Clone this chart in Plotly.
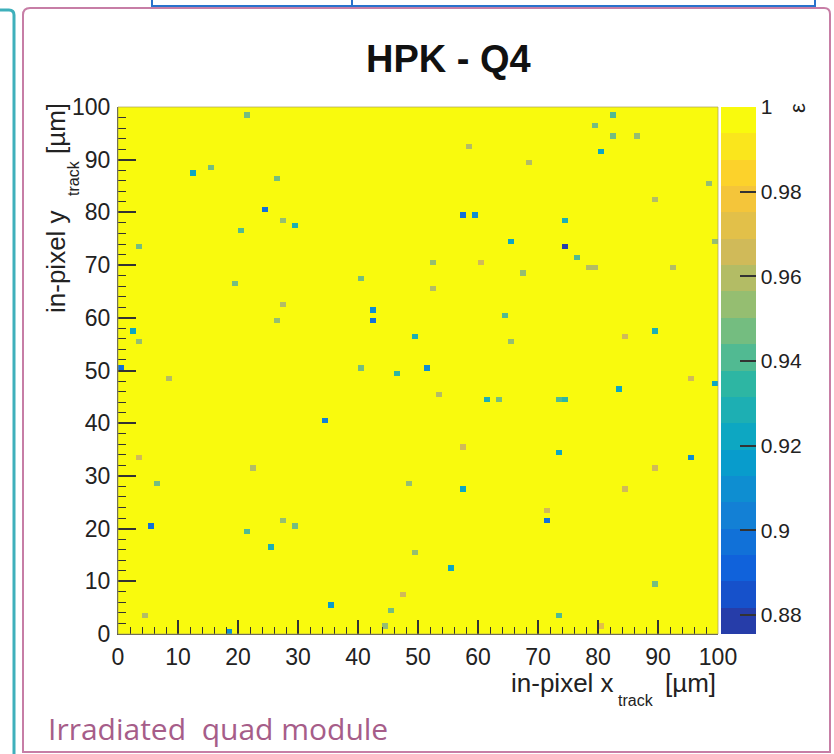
import numpy as np
import plotly.graph_objects as go

W, H = 834, 754

# ---------------- data ----------------
bin_edges = list(range(0, 101))          # 1 um bins, 0..100
x_bins = [21, 12, 15, 26, 24, 27, 29, 20, 3, 19, 40, 27, 26, 42, 42, 49, 2, 3, 0, 40, 46, 8,
          82, 79, 82, 86, 80, 58, 68, 98, 89, 57, 59, 74, 65, 74, 76, 78, 79, 92, 99, 52, 60, 67,
          52, 64, 65, 84, 89, 51, 95,
          34, 3, 22, 6, 48, 5, 21, 27, 29, 25, 49, 47, 35, 45, 4, 44, 18,
          53, 61, 63, 73, 74, 83, 99, 57, 73, 95, 89, 57, 84, 71, 71, 55, 89, 73, 80]
y_bins = [98, 87, 88, 86, 80, 78, 77, 76, 73, 66, 67, 62, 59, 61, 59, 56, 57, 55, 50, 50, 49, 48,
          98, 96, 94, 94, 91, 92, 89, 85, 82, 79, 79, 78, 74, 73, 71, 69, 69, 69, 74, 70, 70, 68,
          65, 60, 55, 56, 57, 50, 48,
          40, 33, 31, 28, 28, 20, 19, 21, 20, 16, 15, 7, 5, 4, 3, 1, 0,
          45, 44, 44, 44, 44, 46, 47, 35, 34, 33, 31, 27, 27, 23, 21, 12, 9, 3, 1]
eff_values = [0.950, 0.920, 0.945, 0.945, 0.900, 0.955, 0.930, 0.940, 0.950, 0.945, 0.950, 0.960,
              0.955, 0.910, 0.895, 0.930, 0.925, 0.955, 0.900, 0.945, 0.935, 0.960,
              0.940, 0.945, 0.950, 0.955, 0.920, 0.960, 0.960, 0.955, 0.960, 0.900, 0.910, 0.930,
              0.920, 0.876, 0.940, 0.962, 0.962, 0.962, 0.955, 0.955, 0.965, 0.955,
              0.960, 0.940, 0.955, 0.965, 0.930, 0.910, 0.965,
              0.905, 0.965, 0.960, 0.950, 0.955, 0.900, 0.940, 0.955, 0.945, 0.930, 0.955, 0.965,
              0.915, 0.945, 0.960, 0.955, 0.910,
              0.960, 0.930, 0.945, 0.940, 0.935, 0.925, 0.920, 0.965, 0.925, 0.910, 0.965, 0.925,
              0.965, 0.965, 0.895, 0.925, 0.945, 0.940, 0.970]
default_eff = 1.0
z_min, z_max = 0.8755, 1.0
z_tick_vals = [0.88, 0.90, 0.92, 0.94, 0.96, 0.98, 1.0]
z_tick_text = ["0.88", "0.9", "0.92", "0.94", "0.96", "0.98", "1"]
axis_ticks = list(range(0, 101, 10))

# ---------------- build matrix ----------------
centers = [(a + b) / 2 for a, b in zip(bin_edges[:-1], bin_edges[1:])]
z = np.full((len(centers), len(centers)), default_eff)
for xb, yb, v in zip(x_bins, y_bins, eff_values):
    z[yb][xb] = v

# ROOT kBird palette, discretised into 20 contour bands
stops = [0.0, 0.125, 0.25, 0.375, 0.5, 0.625, 0.75, 0.875, 1.0]
red = [0.2082, 0.0592, 0.0780, 0.0232, 0.1802, 0.5301, 0.8186, 0.9956, 0.9764]
green = [0.1664, 0.3599, 0.5041, 0.6419, 0.7178, 0.7492, 0.7328, 0.7862, 0.9832]
blue = [0.5293, 0.8684, 0.8385, 0.7914, 0.6425, 0.4662, 0.3499, 0.1968, 0.0539]


def bird(f):
    f = min(max(f, 0.0), 1.0)
    r = np.interp(f, stops, red)
    g = np.interp(f, stops, green)
    b = np.interp(f, stops, blue)
    return f"rgb({int(r*255)},{int(g*255)},{int(b*255)})"


N = 20
cs = []
for i in range(N):
    c = bird((i + 0.99) / N)
    cs.append([i / N, c])
    cs.append([(i + 1) / N, c])


def X(px):
    return px / W


def Y(py):
    return 1 - py / H


fig = go.Figure()
fig.add_trace(go.Heatmap(
    x=centers, y=centers, z=z, zmin=z_min, zmax=z_max, colorscale=cs,
    zsmooth=False, hoverinfo="skip",
    colorbar=dict(
        x=X(721), xanchor="left", xref="paper",
        y=Y((107 + 634) / 2), yanchor="middle", yref="paper",
        len=(634 - 107) / H, lenmode="fraction",
        thickness=35, thicknessmode="pixels",
        xpad=0, ypad=0, outlinewidth=0,
        tickvals=z_tick_vals, ticktext=z_tick_text,
        ticks="inside", ticklen=16, tickcolor="#333", tickwidth=1.5,
        tickfont=dict(family="Liberation Sans, Arial", size=21, color="#222"),
    ),
))

font_ax = dict(family="Liberation Sans, Arial", size=23, color="#222")
fig.update_layout(
    width=W, height=H, margin=dict(l=0, r=0, t=0, b=0, pad=0, autoexpand=False),
    paper_bgcolor="white", plot_bgcolor="white", showlegend=False,
    xaxis=dict(domain=[X(118), X(718)], range=[0, 100], tickvals=axis_ticks,
               ticks="inside", ticklen=14, tickwidth=1.5, tickcolor="#333",
               minor=dict(ticks="inside", ticklen=7, dtick=2, tickcolor="#333", tickwidth=1),
               showgrid=False, zeroline=False, showline=True, linecolor="#555", linewidth=1,
               tickfont=font_ax, ticklabelstandoff=2),
    yaxis=dict(domain=[Y(634), Y(107)], range=[0, 100], tickvals=axis_ticks,
               ticks="inside", ticklen=18, tickwidth=1.5, tickcolor="#333",
               minor=dict(ticks="inside", ticklen=8, dtick=2, tickcolor="#333", tickwidth=1),
               showgrid=False, zeroline=False, showline=True, linecolor="#555", linewidth=1,
               tickfont=font_ax, ticklabelstandoff=2),
)

ann = []
# title
ann.append(dict(text="<b>HPK - Q4</b>", x=X(448), y=Y(59), xref="paper", yref="paper",
                xanchor="center", yanchor="middle", showarrow=False,
                font=dict(family="Liberation Sans, Arial", size=38, color="#111")))
# x-axis title
tf = dict(family="Liberation Sans, Arial", size=26, color="#222")
sf = dict(family="Liberation Sans, Arial", size=16, color="#222")
ann.append(dict(text="in-pixel x", x=X(616), y=Y(683), xref="paper", yref="paper",
                xanchor="right", yanchor="middle", showarrow=False, font=tf))
ann.append(dict(text="track", x=X(636), y=Y(700), xref="paper", yref="paper",
                xanchor="center", yanchor="middle", showarrow=False, font=sf))
ann.append(dict(text="[µm]", x=X(718), y=Y(683), xref="paper", yref="paper",
                xanchor="right", yanchor="middle", showarrow=False, font=tf))
# y-axis title (rotated)
ann.append(dict(text="in-pixel y", x=X(56), y=Y(262), xref="paper", yref="paper",
                xanchor="center", yanchor="middle", textangle=-90, showarrow=False, font=tf))
ann.append(dict(text="track", x=X(74), y=Y(178), xref="paper", yref="paper",
                xanchor="center", yanchor="middle", textangle=-90, showarrow=False, font=sf))
ann.append(dict(text="[µm]", x=X(56), y=Y(129), xref="paper", yref="paper",
                xanchor="center", yanchor="middle", textangle=-90, showarrow=False, font=tf))
# z title
ann.append(dict(text="ε", x=X(797), y=Y(108), xref="paper", yref="paper",
                xanchor="center", yanchor="middle", textangle=-90, showarrow=False,
                font=dict(family="Liberation Sans, Arial", size=22, color="#222")))
# slide caption
ann.append(dict(text="Irradiated  quad module", x=X(46), y=Y(751), xref="paper", yref="paper",
                xanchor="left", yanchor="bottom", showarrow=False,
                font=dict(family="Open Sans", size=30, color="#a65d89")))
fig.update_layout(annotations=ann)

shapes = []
# plot frame (light)
shapes.append(dict(type="rect", xref="paper", yref="paper", x0=X(118), x1=X(718), y0=Y(634), y1=Y(107),
                   line=dict(color="rgba(170,160,90,0.7)", width=1), layer="above"))
# slide decorations: teal box edge, pink frame, blue box at top
shapes.append(dict(type="path", xref="paper", yref="paper",
                   path=f"M {X(0)},{Y(10)} L {X(9)},{Y(10)} Q {X(14)},{Y(10)} {X(14)},{Y(15)} L {X(14)},{Y(760)}",
                   line=dict(color="#3fb0bb", width=3)))
shapes.append(dict(type="path", xref="paper", yref="paper",
                   path=(f"M {X(30)},{Y(8)} L {X(824)},{Y(8)} Q {X(830)},{Y(8)} {X(830)},{Y(14)} "
                         f"L {X(830)},{Y(752)} L {X(23)},{Y(752)} L {X(23)},{Y(15)} Q {X(23)},{Y(8)} {X(30)},{Y(8)} Z"),
                   line=dict(color="#c77ea6", width=2)))
shapes.append(dict(type="rect", xref="paper", yref="paper", x0=X(152), x1=X(815), y0=Y(6), y1=Y(-10),
                   line=dict(color="#2a72cc", width=2)))
shapes.append(dict(type="line", xref="paper", yref="paper", x0=X(352), x1=X(352), y0=Y(6), y1=Y(-10),
                   line=dict(color="#2a72cc", width=2)))
fig.update_layout(shapes=shapes)

fig.write_html("out.html")
